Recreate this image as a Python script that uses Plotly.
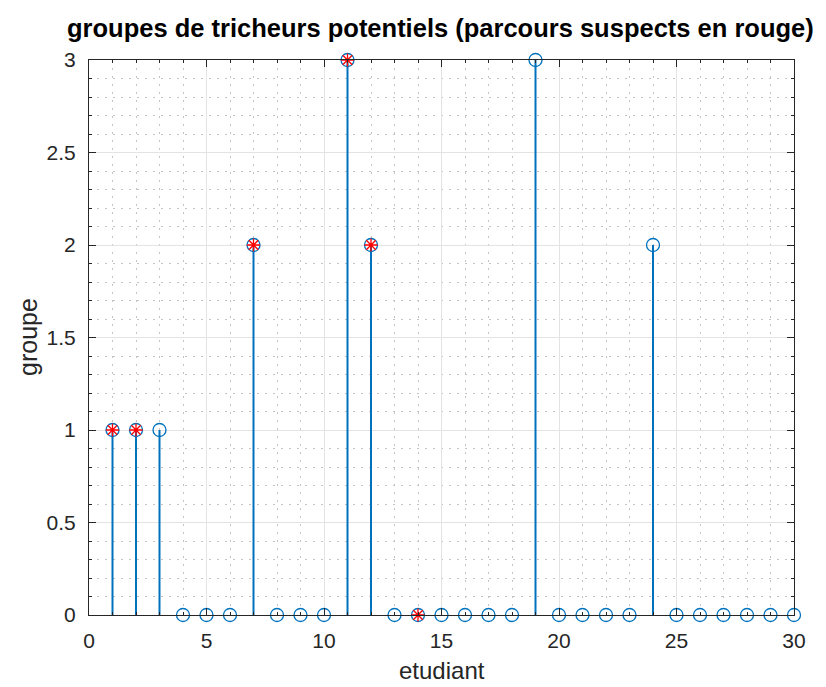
import plotly.graph_objects as go

etudiants = list(range(1, 31))
groupes = [1, 1, 1, 0, 0, 0, 2, 0, 0, 0, 3, 2, 0, 0, 0, 0, 0, 0, 3, 0, 0, 0, 0, 2, 0, 0, 0, 0, 0, 0]
suspects = [1, 2, 7, 11, 12, 14]
titre = "groupes de tricheurs potentiels (parcours suspects en rouge)"
xlabel = "etudiant"
ylabel = "groupe"

blue = "#0072BD"
FONT = "Liberation Sans, Arial, sans-serif"
sx, sy = [], []
for x, y in zip(etudiants, groupes):
    sx += [x, x, None]
    sy += [0, y, None]

fig = go.Figure()
fig.add_trace(go.Scatter(x=sx, y=sy, mode="lines", line=dict(color=blue, width=2), hoverinfo="skip",
                         showlegend=False, cliponaxis=False))
fig.add_trace(go.Scatter(x=etudiants, y=groupes, mode="markers", cliponaxis=False,
                         marker=dict(symbol="circle-open", size=13, color=blue, line=dict(width=1.3, color=blue)),
                         showlegend=False))
fig.add_trace(go.Scatter(x=suspects, y=[groupes[i - 1] for i in suspects], mode="markers", cliponaxis=False,
                         marker=dict(symbol="asterisk-open", size=11, color="red", line=dict(width=1.3, color="red")),
                         showlegend=False))

axis_common = dict(
    showline=True, linecolor="#262626", linewidth=1, mirror="ticks",
    ticks="inside", ticklen=7, tickcolor="#262626",
    showgrid=True, gridcolor="#E3E3E3", gridwidth=1,
    zeroline=False,
    tickfont=dict(family=FONT, size=21, color="#262626"),
)
minor_common = dict(showgrid=True, gridcolor="#C4C4C4", griddash="2px,6px", ticks="inside",
                    ticklen=3, tickcolor="#262626")

fig.update_xaxes(range=[0, 30], dtick=5, tick0=0, ticklabelstandoff=7,
                 minor=dict(dtick=1, **minor_common), **axis_common)
fig.update_yaxes(range=[0, 3], dtick=0.5, tick0=0, ticklabelstandoff=8,
                 minor=dict(dtick=0.1, **minor_common), **axis_common)

# page offset: the html body has an 8px margin
L, R, T, B = 89, 794, 60, 615
W, H = 826, 687
fig.update_layout(
    width=W, height=H,
    margin=dict(l=L - 8, r=W - (R - 8), t=T - 8, b=H - (B - 8)),
    paper_bgcolor="white", plot_bgcolor="white",
)

def px(xp):
    return (xp - L) / (R - L)

def py(yp):
    return (B - yp) / (B - T)

fig.add_annotation(text="<b>" + titre + "</b>", xref="paper", yref="paper", x=px(440), y=py(28),
                   xanchor="center", yanchor="middle", showarrow=False,
                   font=dict(family=FONT, size=25.5, color="black"))
fig.add_annotation(text=xlabel, xref="paper", yref="paper", x=px(441.5), y=py(670),
                   xanchor="center", yanchor="middle", showarrow=False,
                   font=dict(family=FONT, size=24, color="#262626"))
fig.add_annotation(text=ylabel, xref="paper", yref="paper", x=px(28), y=py(337),
                   xanchor="center", yanchor="middle", showarrow=False, textangle=-90,
                   font=dict(family=FONT, size=25, color="#262626"))

fig.write_html("out.html")
